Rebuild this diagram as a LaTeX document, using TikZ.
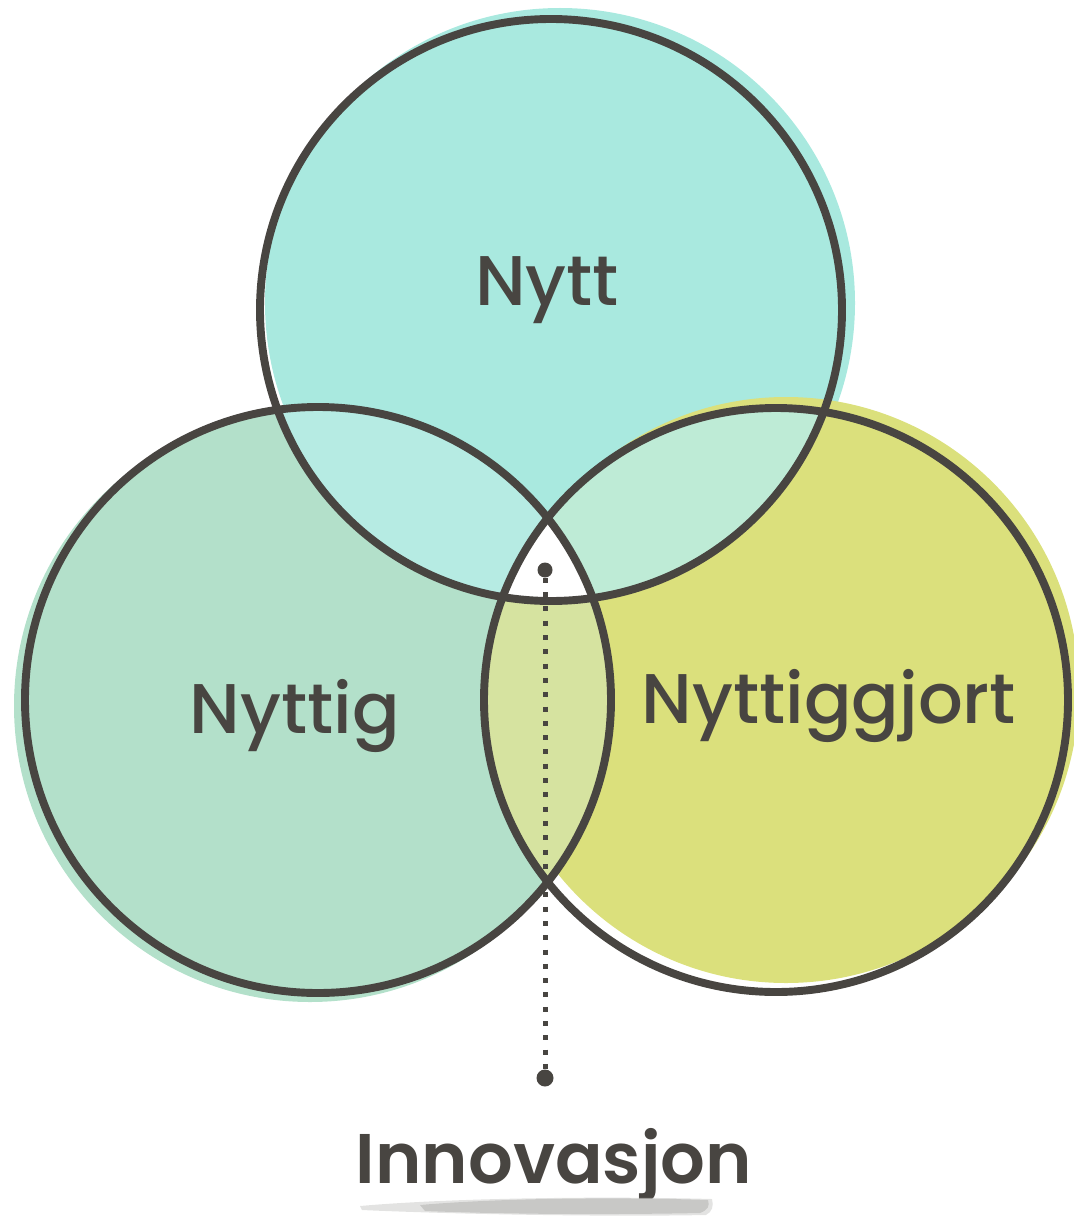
\documentclass[tikz,border=0pt]{standalone}
\usepackage{fontspec}
\setmainfont{Poppins Medium}[BoldFont={Poppins SemiBold}]
\usepackage{tikz}
\usetikzlibrary{positioning, calc}
\definecolor{ringgray}{RGB}{72, 69, 65}
\definecolor{nyttfill}{RGB}{169, 233, 223}
\definecolor{nyttigfill}{RGB}{179, 224, 202}
\definecolor{gjortfill}{RGB}{219, 224, 124}
\definecolor{tlfill}{RGB}{182, 235, 227}
\definecolor{trfill}{RGB}{190, 235, 214}
\definecolor{lrfill}{RGB}{214, 227, 160}
\definecolor{brushgray}{RGB}{200, 200, 198}

\begin{document}
\begin{tikzpicture}[
      x=0.02cm, y=-0.02cm,
      ring/.style={draw=ringgray, line width=4.5pt},
      label/.style={text=ringgray, font=\fontsize{40}{48}\selectfont, anchor=base, inner sep=0pt},
      dot/.style={circle, fill=ringgray, inner sep=0pt, minimum size=0.3cm}
    ]
      \useasboundingbox (0,0) rectangle (1073,1220);

      % centres of the outlines
      \coordinate (ctop) at (551,310);
      \coordinate (cleft) at (318,700);
      \coordinate (cright) at (776,700);

      % offset colour discs
      \fill[nyttfill] (560,303) circle [radius=295];
      \fill[nyttigfill] (310,706) circle [radius=296];
      \fill[gjortfill] (786,690) circle [radius=293];

      % overlaps
      \begin{scope}
        \clip (ctop) circle [radius=291];
        \fill[tlfill] (cleft) circle [radius=293];
        \fill[trfill] (cright) circle [radius=292];
      \end{scope}
      \begin{scope}
        \clip (cleft) circle [radius=293];
        \fill[lrfill] (cright) circle [radius=292];
        \clip (cright) circle [radius=292];
        \fill[white] (ctop) circle [radius=291];
      \end{scope}

      % outlines
      \draw[ring] (ctop) circle [radius=291];
      \draw[ring] (cleft) circle [radius=293];
      \draw[ring] (cright) circle [radius=292];

      \node[label] (nytt) at (547,305) {Nytt};
      \node[label] (nyttig) at (295,733) {Nyttig};
      \node[label] (nyttiggjort) at (829,723) {Nyttiggjort};

      % pointer to the middle
      \node[dot] (dottop) at (545,570) {};
      \node[dot, minimum size=0.34cm] (dotbottom) at (545,1078) {};
      \draw[ringgray, line width=2.85pt, dash pattern=on 0.1cm off 0.186cm] (dottop) -- (dotbottom);

      \node[label, font=\fontsize{40}{48}\selectfont\bfseries] (innovasjon) at (554,1183) {Innovasjon};

      % brush stroke under the word
      \fill[brushgray, opacity=0.5] (360,1206) .. controls (450,1198) and (600,1196) .. (712,1199)
        .. controls (714,1206) and (712,1212) .. (706,1215)
        .. controls (600,1217) and (450,1214) .. (362,1210) -- cycle;
      \fill[brushgray] (420,1205) .. controls (500,1198) and (620,1197) .. (708,1200)
        .. controls (710,1206) and (708,1210) .. (700,1213)
        .. controls (600,1215) and (500,1214) .. (425,1211) -- cycle;
    \end{tikzpicture}
\end{document}
